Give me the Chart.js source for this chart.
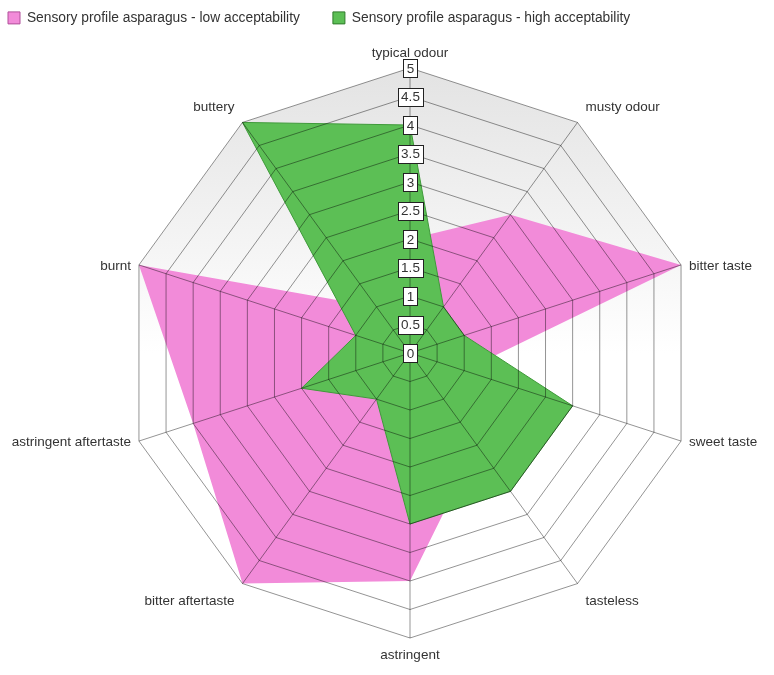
<!DOCTYPE html>
<html>
<head>
<meta charset="utf-8">
<script src="https://cdn.jsdelivr.net/npm/chart.js@4/dist/chart.umd.min.js"></script>
<style>
  html, body { margin: 0; padding: 0; background: #fff; }
  .chart-box { width: 774px; height: 675px; }
</style>
</head>
<body>
<div class="chart-box"><canvas id="radar"></canvas></div>
<script>
const attributes = ['typical odour', 'musty odour', 'bitter taste', 'sweet taste', 'tasteless',
  'astringent', 'bitter aftertaste', 'astringent aftertaste', 'burnt', 'buttery'];
const lowAcceptability = [2, 3, 5, 1, 2, 4, 5, 4, 5, 1];
const highAcceptability = [4, 1, 1, 3, 3, 3, 1, 2, 1, 5];
const seriesNames = ['Sensory profile asparagus - low acceptability',
  'Sensory profile asparagus - high acceptability'];
const scaleMax = 5;
const scaleStep = 0.5;

const FONT = "'Liberation Sans', Arial, sans-serif";

// light grey fade inside the web, behind the fills
const webBackground = {
  id: 'webBackground',
  beforeDatasetsDraw(chart) {
    const r = chart.scales.r;
    const ctx = chart.ctx;
    const g = ctx.createLinearGradient(0, r.yCenter - r.drawingArea, 0, r.yCenter);
    g.addColorStop(0, '#e3e3e3');
    g.addColorStop(1, '#ffffff');
    ctx.save();
    ctx.beginPath();
    attributes.forEach((a, i) => {
      const p = r.getPointPositionForValue(i, r.max);
      if (i === 0) ctx.moveTo(p.x, p.y); else ctx.lineTo(p.x, p.y);
    });
    ctx.closePath();
    ctx.fillStyle = g;
    ctx.fill();
    ctx.restore();
  }
};

// boxed tick labels on the vertical axis + attribute names around the web
const webLabels = {
  id: 'webLabels',
  afterDraw(chart) {
    const r = chart.scales.r;
    const ctx = chart.ctx;
    ctx.save();
    ctx.font = '13.5px ' + FONT;
    ctx.textBaseline = 'middle';

    ctx.textAlign = 'center';
    r.ticks.forEach(t => {
      const label = String(Math.round(t.value * 10) / 10);
      const y = r.yCenter - r.getDistanceFromCenterForValue(t.value);
      const w = Math.round(ctx.measureText(label).width) + 6;
      const h = 18;
      const x0 = Math.round(r.xCenter - w / 2) + 0.5;
      const y0 = Math.round(y - h / 2) + 0.5;
      ctx.fillStyle = '#fff';
      ctx.fillRect(x0, y0, w, h);
      ctx.strokeStyle = '#222';
      ctx.lineWidth = 1;
      ctx.strokeRect(x0, y0, w, h);
      ctx.fillStyle = '#333';
      ctx.fillText(label, r.xCenter + 0.5, y + 1);
    });

    ctx.fillStyle = '#333';
    attributes.forEach((name, i) => {
      const a = r.getIndexAngle(i);
      const sin = Math.sin(a), cos = Math.cos(a);
      const p = r.getPointPosition(i, r.drawingArea);
      let x = p.x, y = p.y;
      if (sin > 0.1) { ctx.textAlign = 'left'; x += 8; }
      else if (sin < -0.1) { ctx.textAlign = 'right'; x -= 8; }
      else ctx.textAlign = 'center';
      if (cos > 0.5) y -= 15;
      else if (cos < -0.5) y += 17.5;
      else y += 1.5;
      ctx.fillText(name, x, y);
    });
    ctx.restore();
  }
};

const ctx = document.getElementById('radar');
const radar = new Chart(ctx, {
  type: 'radar',
  data: {
    labels: attributes,
    datasets: [
      {
        label: seriesNames[0],
        data: lowAcceptability,
        backgroundColor: '#f28bd9',
        borderColor: 'rgba(0,0,0,0)',
        borderWidth: 0,
        pointRadius: 0,
        fill: true,
        order: 1
      },
      {
        label: seriesNames[1],
        data: highAcceptability,
        backgroundColor: '#5cbf55',
        borderColor: '#3f9a3a',
        borderWidth: 1,
        pointRadius: 0,
        fill: true,
        order: 0
      }
    ]
  },
  options: {
    responsive: true,
    maintainAspectRatio: false,
    animation: false,
    devicePixelRatio: 1,
    layout: { padding: { top: 1, left: -2, right: 0, bottom: 0 } },
    plugins: {
      tooltip: { enabled: false },
      legend: {
        position: 'top',
        align: 'start',
        labels: {
          boxWidth: 12,
          boxHeight: 12,
          padding: 10,
          color: '#333',
          font: { family: FONT, size: 13.8 },
          sort: (a, b) => a.datasetIndex - b.datasetIndex,
          generateLabels(chart) {
            const strokes = ['#b0509a', '#2f7a2b'];
            return chart.data.datasets.map((ds, i) => ({
              text: i === 0 ? ds.label + '      ' : ds.label,
              fillStyle: ds.backgroundColor,
              strokeStyle: strokes[i],
              lineWidth: 1,
              hidden: false,
              datasetIndex: i,
              fontColor: '#333'
            }));
          }
        }
      }
    },
    scales: {
      r: {
        min: 0,
        max: scaleMax,
        ticks: { stepSize: scaleStep, display: false },
        grid: { color: 'rgba(0,0,0,0.42)', lineWidth: 1, z: 1 },
        angleLines: { color: 'rgba(0,0,0,0.42)', lineWidth: 1 },
        pointLabels: { display: false },
        afterFit(scale) {
          // web placed like the reference: centre and outer radius
          scale.xCenter = 410;
          scale.yCenter = 353;
          scale.drawingArea = 285;
        }
      }
    }
  },
  plugins: [webBackground, webLabels]
});
</script>
</body>
</html>
